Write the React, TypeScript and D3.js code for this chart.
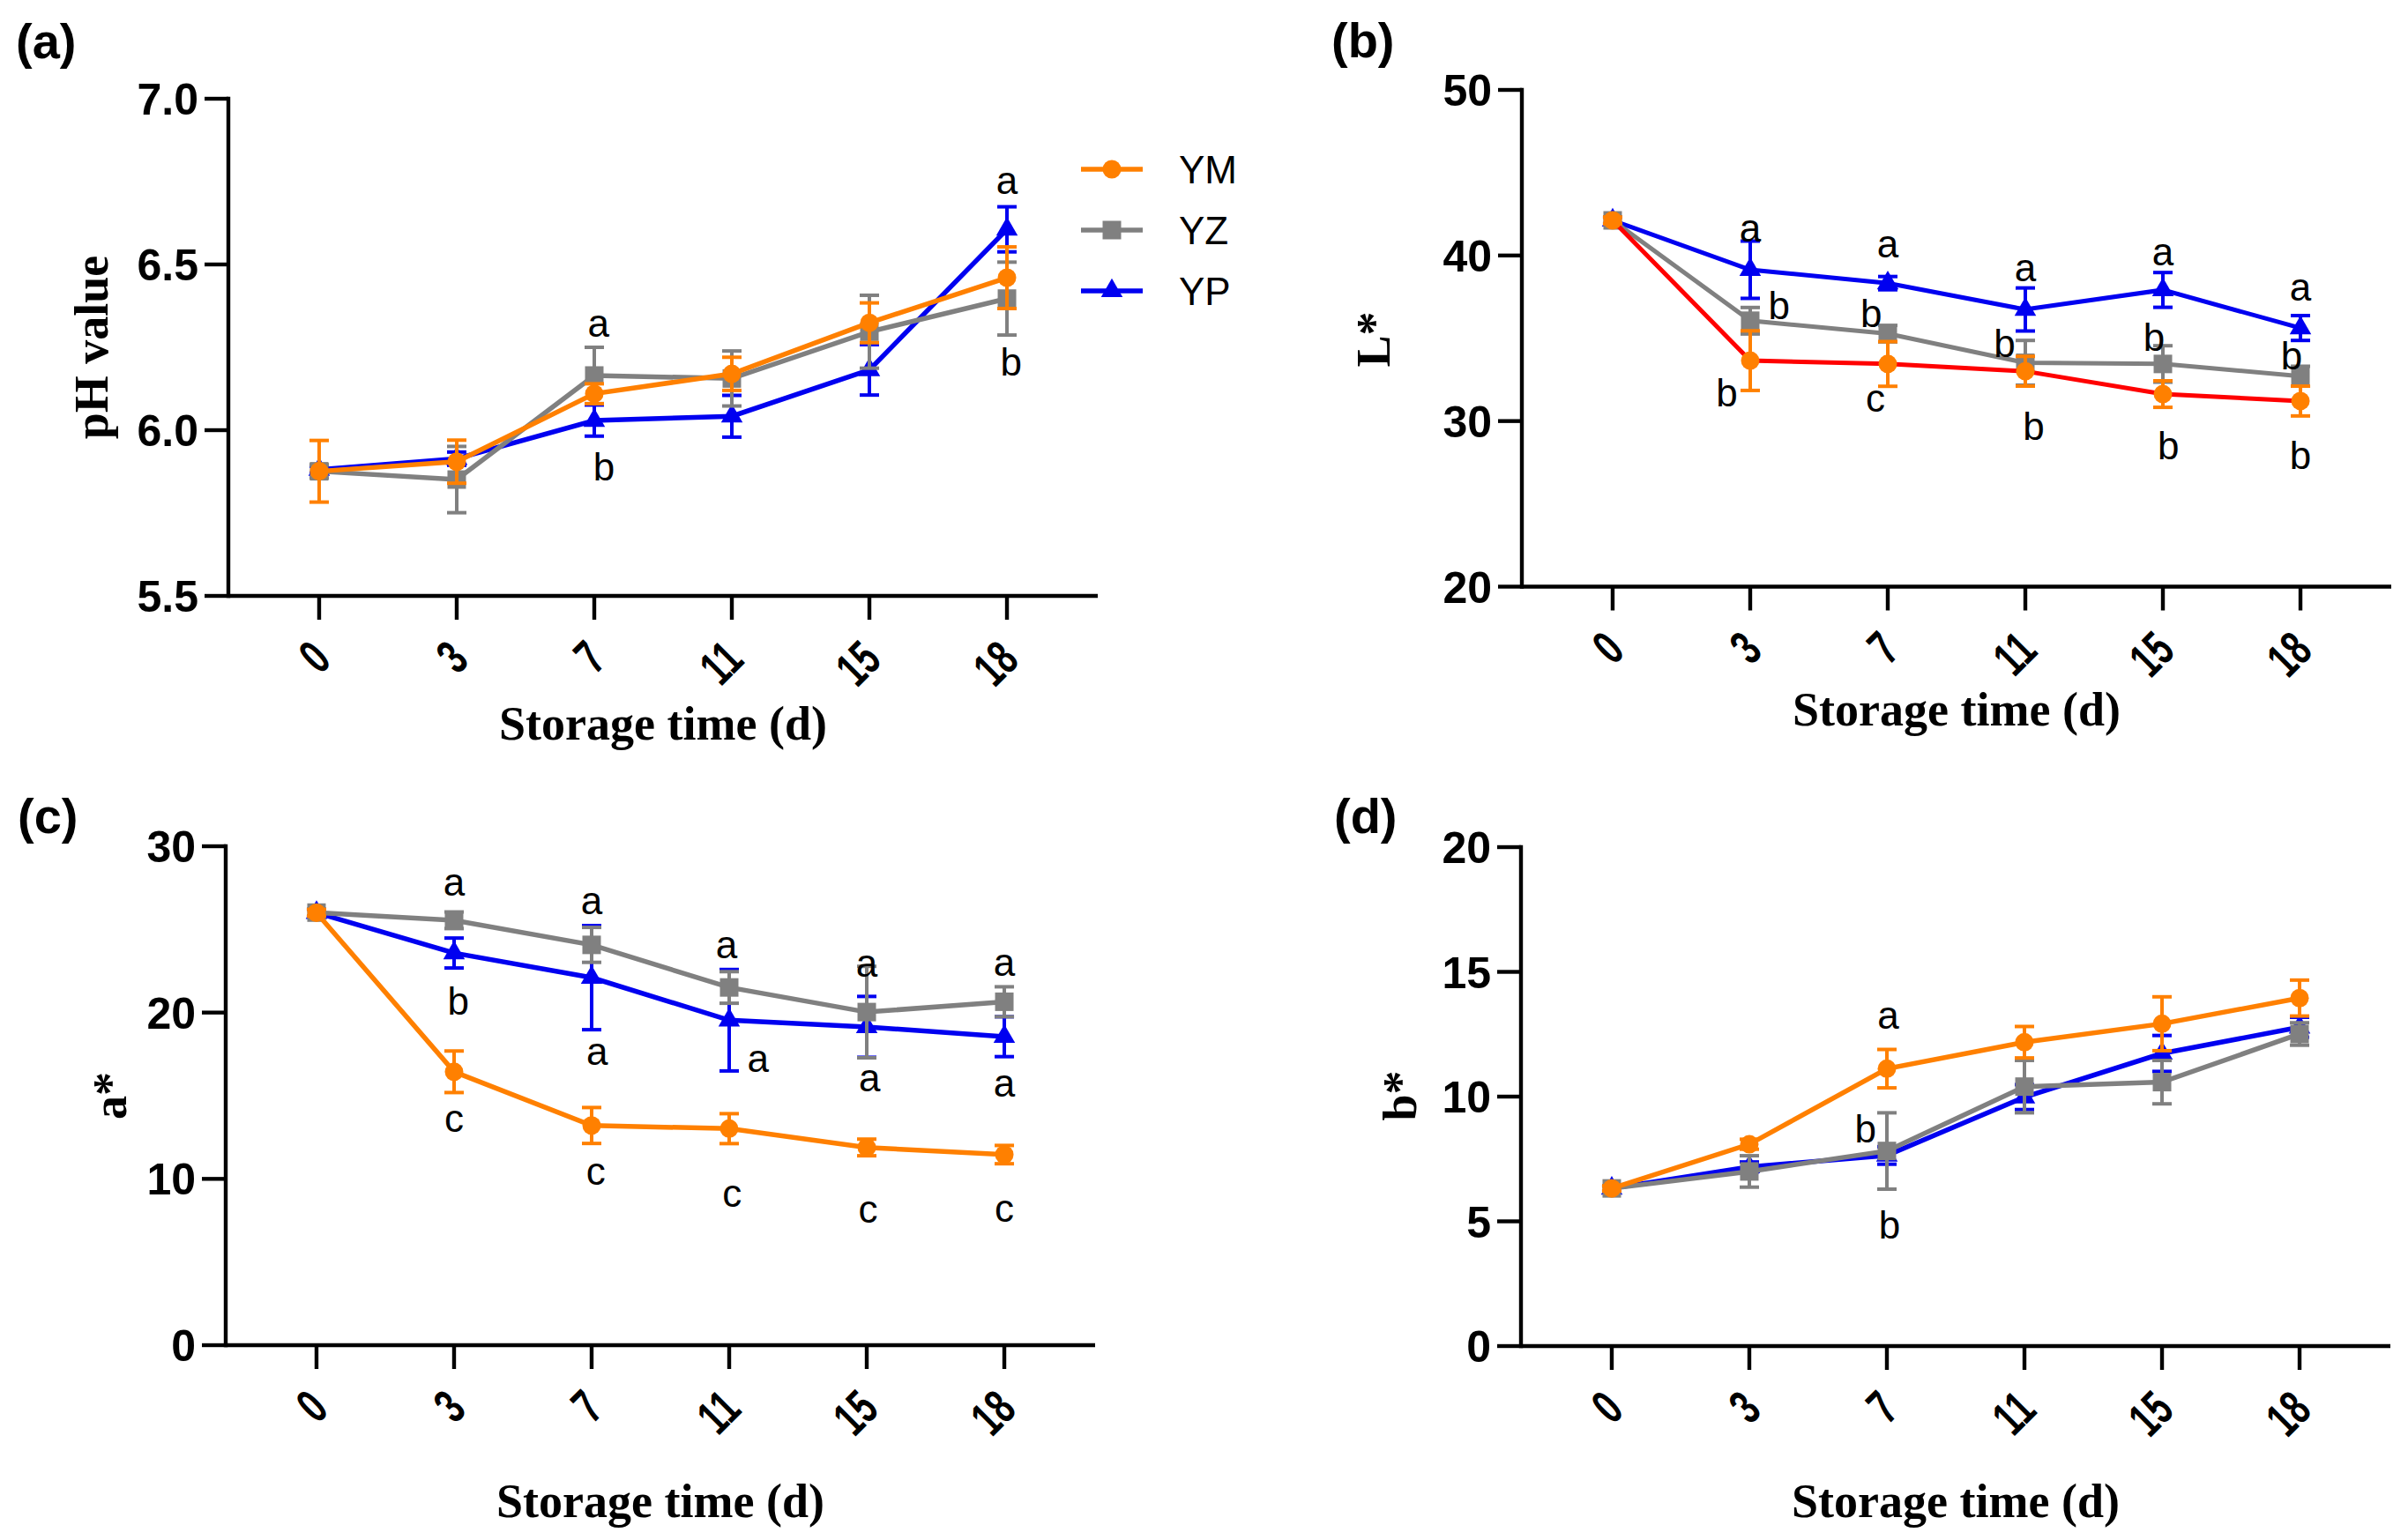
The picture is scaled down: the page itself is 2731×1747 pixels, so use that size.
import React from 'react';
import * as d3 from 'd3';

const days = ['0', '3', '7', '11', '15', '18'];
const seriesNames = ['YM', 'YZ', 'YP'];

// (a) pH value
const phYM = [5.876, 5.905, 6.11, 6.17, 6.324, 6.46];
const phYMErr = [0.093, 0.065, 0.03, 0.05, 0.06, 0.093];
const phYZ = [5.876, 5.851, 6.165, 6.156, 6.297, 6.397];
const phYZErr = [0.02, 0.1, 0.085, 0.083, 0.11, 0.11];
const phYP = [5.881, 5.914, 6.029, 6.042, 6.182, 6.606];
const phYPErr = [0.01, 0.02, 0.047, 0.063, 0.076, 0.068];
const phTicks = [5.5, 6.0, 6.5, 7.0];
const phLetters: [number, number, string, number][] = [
  [2, 6.312, 'a', 0.03], [2, 5.89, 'b', 0.07], [5, 6.742, 'a', 0], [5, 6.207, 'b', 0.03],
];

// (b) L*
const lYM = [42.12, 33.65, 33.45, 33.01, 31.63, 31.21];
const lYMErr = [0.2, 1.8, 1.35, 0.9, 0.8, 0.9];
const lYZ = [42.12, 36.06, 35.28, 33.52, 33.45, 32.71];
const lYZErr = [0.2, 0.8, 0.5, 1.35, 1.1, 0.6];
const lYP = [42.12, 39.14, 38.33, 36.74, 37.92, 35.62];
const lYPErr = [0.2, 1.73, 0.4, 1.3, 1.05, 0.75];
const lTicks = [20, 30, 40, 50];
const lLetters: [number, number, string, number][] = [
  [1, 41.46, 'a', 0], [2, 40.51, 'a', 0], [3, 39.08, 'a', 0], [4, 40.0, 'a', 0], [5, 37.86, 'a', 0],
  [1, 37.02, 'b', 0.21], [2, 36.54, 'b', -0.12], [3, 34.71, 'b', -0.15], [4, 35.08, 'b', -0.065], [5, 33.97, 'b', -0.065],
  [1, 31.76, 'b', -0.17], [2, 31.19, 'c', -0.09], [3, 29.73, 'b', 0.06], [4, 28.54, 'b', 0.04], [5, 27.97, 'b', 0],
];

// (c) a*
const aYM = [26.0, 16.44, 13.21, 13.02, 11.89, 11.46];
const aYMErr = [0.2, 1.25, 1.08, 0.9, 0.5, 0.55];
const aYZ = [26.01, 25.55, 24.07, 21.51, 20.03, 20.65];
const aYZErr = [0.2, 0.5, 1.05, 0.95, 2.75, 0.9];
const aYP = [26.0, 23.58, 22.1, 19.54, 19.14, 18.55];
const aYPErr = [0.2, 0.9, 3.13, 3.05, 1.83, 1.2];
const aTicks = [0, 10, 20, 30];
const aLetters: [number, number, string, number][] = [
  [1, 27.63, 'a', 0], [2, 26.55, 'a', 0], [3, 23.86, 'a', -0.02], [4, 22.78, 'a', 0], [5, 22.79, 'a', 0],
  [1, 20.75, 'b', 0.03], [2, 17.46, 'a', 0.04], [3, 17.06, 'a', 0.21], [4, 15.85, 'a', 0.02], [5, 15.53, 'a', 0],
  [1, 13.42, 'c', 0], [2, 10.25, 'c', 0.03], [3, 8.92, 'c', 0.02], [4, 7.98, 'c', 0.01], [5, 8.02, 'c', 0],
];

// (d) b*
const bYM = [6.32, 8.09, 11.12, 12.18, 12.92, 13.95];
const bYMErr = [0.1, 0.2, 0.77, 0.63, 1.08, 0.72];
const bYZ = [6.32, 7.0, 7.82, 10.4, 10.58, 12.51];
const bYZErr = [0.1, 0.63, 1.53, 1.05, 0.87, 0.45];
const bYP = [6.32, 7.18, 7.64, 9.98, 11.73, 12.78];
const bYPErr = [0.1, 0.2, 0.35, 0.5, 0.72, 0.4];
const bTicks = [0, 5, 10, 15, 20];
const bLetters: [number, number, string, number][] = [
  [2, 13.14, 'a', 0.01], [2, 8.72, 'b', -0.155], [2, 4.87, 'b', 0.02],
];

const ORANGE = '#FF8000';
const GRAY = '#808080';
const BLUE = '#0000F0';
const RED = '#FF0000';
const SANS = '"Liberation Sans", Arial, sans-serif';
const SERIF = '"Liberation Serif", "Times New Roman", serif';

type Series = { name: string; values: number[]; errs: number[]; color: string; lineColor: string; shape: string };

interface PanelCfg {
  label: string;
  labelX: number;
  labelY: number;
  axisX: number;
  axisEnd: number;
  yTop: number;
  yBot: number;
  domain: [number, number];
  ticks: number[];
  fmt: (v: number) => string;
  yTitle: string;
  yTitleX: number;
  yTitleY: number;
  xTitleY: number;
  series: Series[];
  letters: [number, number, string, number][];
  lineW: number;
  legend?: boolean;
}

const mk = (ym: number[], yme: number[], yz: number[], yze: number[], yp: number[], ype: number[], ymLine: string): Series[] => [
  { name: seriesNames[2], values: yp, errs: ype, color: BLUE, lineColor: BLUE, shape: 'triangle' },
  { name: seriesNames[1], values: yz, errs: yze, color: GRAY, lineColor: GRAY, shape: 'square' },
  { name: seriesNames[0], values: ym, errs: yme, color: ORANGE, lineColor: ymLine, shape: 'circle' },
];

const panels: PanelCfg[] = [
  {
    label: '(a)', labelX: 18, labelY: 66, axisX: 259, axisEnd: 1245, yTop: 112, yBot: 676,
    domain: [5.5, 7.0], ticks: phTicks, fmt: (v) => v.toFixed(1), yTitle: 'pH value', yTitleX: 122, yTitleY: 394,
    xTitleY: 839, series: mk(phYM, phYMErr, phYZ, phYZErr, phYP, phYPErr, ORANGE), letters: phLetters, lineW: 5.5, legend: true,
  },
  {
    label: '(b)', labelX: 1510, labelY: 65, axisX: 1726, axisEnd: 2712, yTop: 102, yBot: 665.5,
    domain: [20, 50], ticks: lTicks, fmt: (v) => String(v), yTitle: 'L*', yTitleX: 1576, yTitleY: 385,
    xTitleY: 823, series: mk(lYM, lYMErr, lYZ, lYZErr, lYP, lYPErr, RED), letters: lLetters, lineW: 5,
  },
  {
    label: '(c)', labelX: 20, labelY: 945, axisX: 256, axisEnd: 1242, yTop: 960, yBot: 1526,
    domain: [0, 30], ticks: aTicks, fmt: (v) => String(v), yTitle: 'a*', yTitleX: 143, yTitleY: 1243,
    xTitleY: 1721, series: mk(aYM, aYMErr, aYZ, aYZErr, aYP, aYPErr, ORANGE), letters: aLetters, lineW: 5.5,
  },
  {
    label: '(d)', labelX: 1513, labelY: 945, axisX: 1725, axisEnd: 2711, yTop: 961, yBot: 1527,
    domain: [0, 20], ticks: bTicks, fmt: (v) => String(v), yTitle: 'b*', yTitleX: 1606, yTitleY: 1243,
    xTitleY: 1721, series: mk(bYM, bYMErr, bYZ, bYZErr, bYP, bYPErr, ORANGE), letters: bLetters, lineW: 5.5,
  },
];

const symPath = (shape: string) => {
  if (shape === 'circle') return d3.symbol(d3.symbolCircle, Math.PI * 10.5 * 10.5)()!;
  if (shape === 'square') return d3.symbol(d3.symbolSquare, 21 * 21)()!;
  return d3.symbol(d3.symbolTriangle, 260)()!;
};

function Panel({ cfg }: { cfg: PanelCfg }) {
  const x = d3.scalePoint<string>().domain(days).range([cfg.axisX, cfg.axisEnd]).padding(0.66);
  const step = x.step();
  const y = d3.scaleLinear().domain(cfg.domain).range([cfg.yBot, cfg.yTop]);
  const line = d3.line<number>().x((_, i) => x(days[i])!).y((d) => y(d));
  const tickLen = 27;
  const letterFs = 44;
  return (
    <g>
      <text x={cfg.labelX} y={cfg.labelY} fontFamily={SANS} fontWeight="bold" fontSize={56}>{cfg.label}</text>
      {/* y axis */}
      <line x1={cfg.axisX} x2={cfg.axisX} y1={cfg.yTop} y2={cfg.yBot} stroke="#000" strokeWidth={4.4} strokeLinecap="square" />
      {cfg.ticks.map((t) => (
        <g key={'yt' + t}>
          <line x1={cfg.axisX - tickLen} x2={cfg.axisX} y1={y(t)} y2={y(t)} stroke="#000" strokeWidth={4.4} />
          <text x={cfg.axisX - 34} y={y(t)} dy="0.36em" textAnchor="end" fontFamily={SANS} fontWeight="bold" fontSize={50}>{cfg.fmt(t)}</text>
        </g>
      ))}
      {/* x axis */}
      <line x1={cfg.axisX} x2={cfg.axisEnd} y1={cfg.yBot} y2={cfg.yBot} stroke="#000" strokeWidth={4.4} />
      {days.map((d) => (
        <g key={'xt' + d}>
          <line x1={x(d)} x2={x(d)} y1={cfg.yBot} y2={cfg.yBot + tickLen} stroke="#000" strokeWidth={4.4} />
          <text
            transform={`translate(${x(d)! + 1.5},${cfg.yBot + 61}) rotate(-45) scale(0.68,1)`}
            dy="0.36em" textAnchor="end" fontFamily={SANS} fontWeight="bold" fontSize={56}
          >{d}</text>
        </g>
      ))}
      <text x={(cfg.axisX + cfg.axisEnd) / 2} y={cfg.xTitleY} textAnchor="middle" fontFamily={SERIF} fontWeight="bold" fontSize={54}>Storage time (d)</text>
      <text transform={`translate(${cfg.yTitleX},${cfg.yTitleY}) rotate(-90)`} textAnchor="middle" fontFamily={SERIF} fontWeight="bold" fontSize={54}>{cfg.yTitle}</text>
      {/* series */}
      {cfg.series.map((s) => (
        <g key={s.name}>
          <path d={line(s.values)!} fill="none" stroke={s.lineColor} strokeWidth={cfg.lineW} strokeLinejoin="miter" />
          {s.values.map((v, i) => {
            const cx = x(days[i])!;
            const e = s.errs[i];
            return (
              <g key={'e' + i} stroke={s.color} strokeWidth={4}>
                <line x1={cx} x2={cx} y1={y(v - e)} y2={y(v + e)} />
                <line x1={cx - 11} x2={cx + 11} y1={y(v + e)} y2={y(v + e)} />
                <line x1={cx - 11} x2={cx + 11} y1={y(v - e)} y2={y(v - e)} />
              </g>
            );
          })}
          {s.values.map((v, i) => (
            <path key={'m' + i} d={symPath(s.shape)} transform={`translate(${x(days[i])},${y(v)})`} fill={s.color} />
          ))}
        </g>
      ))}
      {/* significance letters */}
      {cfg.letters.map(([i, v, t, dx], k) => (
        <text
          key={'l' + k}
          x={x(days[i])! + dx * step}
          y={y(v) + (t === 'b' ? 0.365 : 0.26) * letterFs}
          textAnchor="middle" fontFamily={SANS} fontSize={letterFs}
        >{t}</text>
      ))}
      {cfg.legend && [...cfg.series].reverse().map((s, k) => {
        const ly = 192 + k * 69;
        return (
          <g key={'lg' + s.name}>
            <line x1={1226} x2={1296} y1={ly} y2={ly} stroke={s.lineColor} strokeWidth={cfg.lineW} />
            <path d={symPath(s.shape)} transform={`translate(1261,${ly})`} fill={s.color} />
            <text x={1337} y={ly} dy="0.36em" fontFamily={SANS} fontSize={44}>{s.name}</text>
          </g>
        );
      })}
    </g>
  );
}

export default function App() {
  return (
    <svg
      width={2731}
      height={1747}
      viewBox="0 0 2731 1747"
      style={{ position: 'absolute', left: 0, top: 0, background: '#fff' }}
    >
      <rect x={0} y={0} width={2731} height={1747} fill="#fff" />
      {panels.map((p) => <Panel key={p.label} cfg={p} />)}
    </svg>
  );
}
